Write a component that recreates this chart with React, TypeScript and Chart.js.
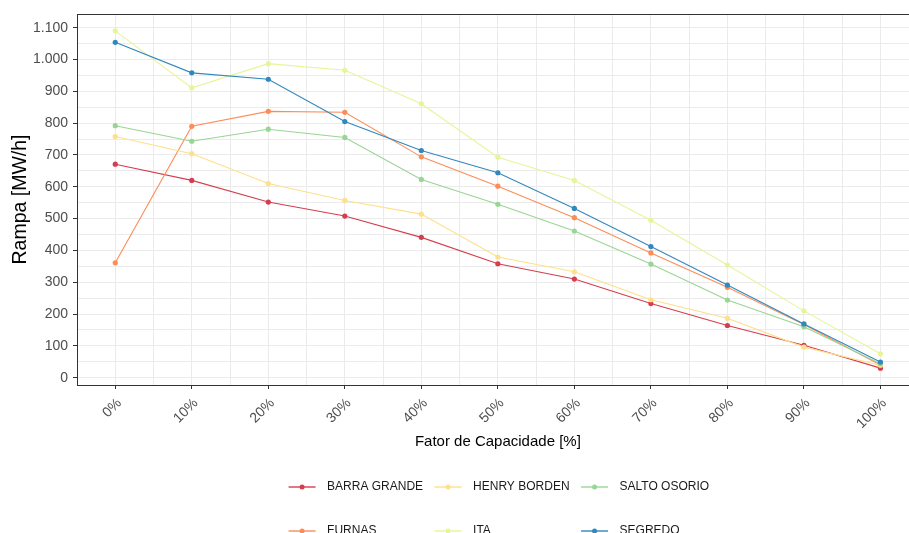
import React, { useEffect, useRef } from 'react';
import { Chart, registerables } from 'chart.js';

Chart.register(...registerables);

// ---- data ----
const CAPACITY = [0, 10, 20, 30, 40, 50, 60, 70, 80, 90, 100];
const X_LABELS = ['0%', '10%', '20%', '30%', '40%', '50%', '60%', '70%', '80%', '90%', '100%'];
const Y_TICKS = [0, 100, 200, 300, 400, 500, 600, 700, 800, 900, 1000, 1100];
const Y_LABELS = ['0', '100', '200', '300', '400', '500', '600', '700', '800', '900', '1.000', '1.100'];

const PLANTS = ['BARRA GRANDE', 'FURNAS', 'HENRY BORDEN', 'ITA', 'SALTO OSORIO', 'SEGREDO'];
const COLORS = ['#D53E4F', '#FC8D59', '#FEE08B', '#E6F598', '#99D594', '#3288BD'];

const BARRA_GRANDE = [671, 620, 552, 508, 441, 358, 310, 233, 164, 102, 30];
const FURNAS = [361, 790, 837, 834, 694, 602, 503, 392, 284, 167, 40];
const HENRY_BORDEN = [758, 704, 610, 557, 514, 379, 333, 245, 187, 96, 39];
const ITA = [1090, 911, 987, 966, 861, 693, 620, 495, 354, 210, 75];
const SALTO_OSORIO = [792, 743, 781, 755, 623, 545, 461, 357, 244, 160, 44];
const SEGREDO = [1054, 958, 938, 805, 714, 644, 532, 412, 291, 169, 49];

const SERIES = [BARRA_GRANDE, FURNAS, HENRY_BORDEN, ITA, SALTO_OSORIO, SEGREDO];

const FONT = "'Liberation Sans', Arial, sans-serif";

const panelBorder = {
  id: 'panelBorder',
  afterDatasetsDraw(chart: any) {
    const { ctx, chartArea } = chart;
    const l = Math.round(chartArea.left) + 0.5;
    const t = Math.round(chartArea.top) + 0.5;
    const r = Math.round(chartArea.right) + 0.5;
    const b = Math.round(chartArea.bottom) + 0.5;
    ctx.save();
    ctx.strokeStyle = '#333333';
    ctx.lineWidth = 1;
    ctx.strokeRect(l, t, r - l, b - t);
    ctx.restore();
  },
};

const columnLegend = {
  id: 'columnLegend',
  afterDraw(chart: any) {
    const { ctx, chartArea } = chart;
    const datasets = chart.data.datasets;
    const columns = [[0, 1], [2, 3], [4, 5]];
    const rowsY = [487, 531];
    const keyW = 27;
    const keyGap = 11.5;
    const colGap = 11.5;
    ctx.save();
    ctx.font = `12px ${FONT}`;
    const colWidths = columns.map((col) =>
      keyW + keyGap + Math.max(...col.map((i) => ctx.measureText(datasets[i].label).width))
    );
    const total = colWidths.reduce((a, b) => a + b, 0) + colGap * (columns.length - 1);
    let x = (chartArea.left + chartArea.right) / 2 - total / 2 + 1;
    columns.forEach((col, ci) => {
      col.forEach((di, ri) => {
        const ds = datasets[di];
        const y = rowsY[ri];
        ctx.globalAlpha = 0.7;
        ctx.strokeStyle = ds.borderColor;
        ctx.lineWidth = 2;
        ctx.beginPath();
        ctx.moveTo(x, y);
        ctx.lineTo(x + keyW, y);
        ctx.stroke();
        ctx.globalAlpha = 1;
        ctx.fillStyle = ds.borderColor;
        ctx.beginPath();
        ctx.arc(x + keyW / 2, y, 2.5, 0, Math.PI * 2);
        ctx.fill();
        ctx.fillStyle = '#1A1A1A';
        ctx.textAlign = 'left';
        ctx.textBaseline = 'middle';
        ctx.fillText(ds.label, x + keyW + keyGap, y);
      });
      x += colWidths[ci] + colGap;
    });
    ctx.restore();
  },
};

export default function App() {
  const ref = useRef<HTMLCanvasElement | null>(null);

  useEffect(() => {
    if (!ref.current) return;
    const datasets = PLANTS.map((name, i) => ({
      label: name,
      data: SERIES[i].map((v, j) => ({ x: CAPACITY[j], y: v })),
      borderColor: COLORS[i],
      backgroundColor: COLORS[i],
      pointBackgroundColor: COLORS[i],
      pointBorderWidth: 0,
      pointRadius: 2.6,
      borderWidth: 1.1,
      tension: 0,
      order: PLANTS.length - 1 - i,
    }));

    const chart = new Chart(ref.current, {
      type: 'line',
      data: { datasets },
      options: {
        animation: false,
        responsive: false,
        maintainAspectRatio: false,
        layout: { padding: { left: 0, top: 14, right: 21.3, bottom: 0 } },
        plugins: {
          legend: { display: false },
          tooltip: { enabled: false },
        },
        scales: {
          x: {
            type: 'linear',
            min: -5,
            max: 105,
            afterFit: (scale: any) => {
              scale.height = 148;
            },
            border: { display: false },
            grid: {
              color: '#EBEBEB',
              lineWidth: 1,
              tickLength: 4,
              tickColor: (c: any) =>
                c.tick && CAPACITY.indexOf(c.tick.value) >= 0 ? '#333333' : 'rgba(0,0,0,0)',
            },
            ticks: {
              stepSize: 5,
              autoSkip: false,
              maxRotation: 45,
              minRotation: 45,
              padding: 6,
              labelOffset: 4,
              color: '#4D4D4D',
              font: { family: FONT, size: 14 },
              callback: (v: any) => {
                const i = CAPACITY.indexOf(Number(v));
                return i >= 0 ? X_LABELS[i] : '';
              },
            },
            title: {
              display: true,
              text: 'Fator de Capacidade [%]',
              color: '#000000',
              font: { family: FONT, size: 15 },
              padding: { top: 0, bottom: 82 },
            },
          },
          y: {
            type: 'linear',
            min: -23,
            max: 1143,
            afterFit: (scale: any) => {
              scale.width = 77;
            },
            border: { display: false },
            grid: {
              color: '#EBEBEB',
              lineWidth: 1,
              tickLength: 4,
              tickColor: (c: any) =>
                c.tick && Y_TICKS.indexOf(c.tick.value) >= 0 ? '#333333' : 'rgba(0,0,0,0)',
            },
            ticks: {
              stepSize: 50,
              includeBounds: false,
              autoSkip: false,
              padding: 5,
              color: '#4D4D4D',
              font: { family: FONT, size: 14 },
              callback: (v: any) => {
                const i = Y_TICKS.indexOf(Number(v));
                return i >= 0 ? Y_LABELS[i] : '';
              },
            },
            title: {
              display: true,
              text: 'Rampa [MW/h]',
              color: '#000000',
              font: { family: FONT, size: 19.5 },
              padding: { top: 9, bottom: 0 },
            },
          },
        },
      },
      plugins: [panelBorder, columnLegend],
    });
    return () => chart.destroy();
  }, []);

  return (
    <div
      style={{
        position: 'fixed',
        left: 0,
        top: 0,
        width: 909,
        height: 533,
        overflow: 'hidden',
        background: '#ffffff',
      }}
    >
      <canvas ref={ref} width={940} height={533} style={{ width: 940, height: 533, display: 'block' }} />
    </div>
  );
}
